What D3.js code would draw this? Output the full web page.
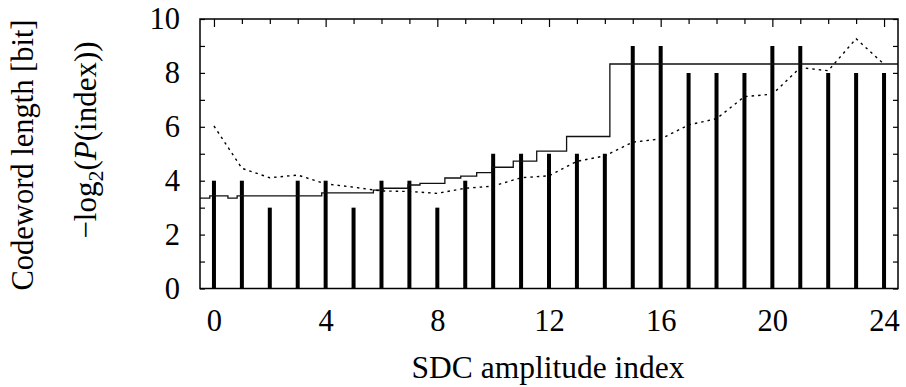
<!DOCTYPE html>
<html><head><meta charset="utf-8">
<script src="https://cdn.jsdelivr.net/npm/d3@7"></script>
<style>
html,body{margin:0;padding:0;background:#fff;}
svg{display:block;}
svg text{font-family:"Liberation Serif","Times New Roman",Times,"DejaVu Serif",serif !important;}
</style></head>
<body>
<svg id="chart" width="906" height="387"></svg>
<script>
// Data
const indices = d3.range(0, 25);
const codewordLength = [4,4,3,4,4,3,4,4,3,4,5,5,5,5,5,9,9,8,8,8,9,9,8,8,8];
const negLog2P = [6.03,4.46,4.11,4.21,3.88,3.76,3.62,3.60,3.53,3.72,3.80,4.11,4.18,4.72,4.92,5.43,5.55,6.07,6.30,7.12,7.21,8.20,8.08,9.27,8.32];
const stepX = [-0.5,-0.15,0.50,0.83,3.86,5.71,6.06,6.95,7.38,8.27,8.84,9.41,9.95,10.72,11.56,12.63,14.18,24.5];
const stepY = [3.35,3.44,3.35,3.44,3.55,3.65,3.72,3.84,3.90,4.10,4.17,4.30,4.50,4.73,5.10,5.64,8.33,8.33];
const xTickLabels = [0,4,8,12,16,20,24];
const yTickLabels = [0,2,4,6,8,10];

const FONT = "Liberation Serif, Times New Roman, Times, DejaVu Serif, serif";
const FS = 30.5;
const svg = d3.select("#chart").attr("font-family", FONT);
const L = 200, R = 898, T = 19, B = 288.5;
const x = d3.scaleLinear().domain([-0.5, 24.5]).range([L, R]);
const y = d3.scaleLinear().domain([0, 10]).range([B, T]);

// bars (impulses)
svg.append("g").selectAll("line").data(indices).join("line")
  .attr("x1", d => x(d)).attr("x2", d => x(d))
  .attr("y1", y(0)).attr("y2", d => y(codewordLength[d]))
  .attr("stroke", "#000").attr("stroke-width", 4);

// step line
const stepPts = stepX.map((v, i) => [v, stepY[i]]);
svg.append("path").datum(stepPts)
  .attr("d", d3.line().x(d => x(d[0])).y(d => y(d[1])).curve(d3.curveStepAfter))
  .attr("fill", "none").attr("stroke", "#111").attr("stroke-width", 1.3);

// dotted line
svg.append("path").datum(indices)
  .attr("d", d3.line().x(d => x(d)).y(d => y(negLog2P[d])))
  .attr("fill", "none").attr("stroke", "#000").attr("stroke-width", 1.4)
  .attr("stroke-dasharray", "2.5,4");

// axes
const xTicks = d3.range(0, 25);
const yTicks = d3.range(0, 11);
function styleAxis(g) {
  g.attr("font-family", FONT);
  g.select(".domain").remove();
  g.selectAll("line").attr("stroke", "#000").attr("stroke-width", 1.2);
  g.selectAll("text").attr("fill", "#000").attr("font-size", FS);
}
const fmtX = d => xTickLabels.includes(d) ? String(d) : "";
const fmtY = d => yTickLabels.includes(d) ? String(d) : "";

const gxb = svg.append("g").attr("transform", `translate(0,${B})`)
  .call(d3.axisBottom(x).tickValues(xTicks).tickFormat(fmtX).tickSize(-5).tickPadding(21));
styleAxis(gxb);
gxb.selectAll(".tick").filter(d => xTickLabels.includes(d)).select("line").attr("y2", -8);

const gxt = svg.append("g").attr("transform", `translate(0,${T})`)
  .call(d3.axisTop(x).tickValues(xTicks).tickFormat("").tickSize(-5));
styleAxis(gxt);
gxt.selectAll(".tick").filter(d => xTickLabels.includes(d)).select("line").attr("y2", 8);

const gyl = svg.append("g").attr("transform", `translate(${L},0)`)
  .call(d3.axisLeft(y).tickValues(yTicks).tickFormat(fmtY).tickSize(-5).tickPadding(20));
styleAxis(gyl);

const gyr = svg.append("g").attr("transform", `translate(${R},0)`)
  .call(d3.axisRight(y).tickValues(yTicks).tickFormat("").tickSize(-5));
styleAxis(gyr);

// frame
svg.append("rect").attr("x", L).attr("y", T).attr("width", R - L).attr("height", B - T)
  .attr("fill", "none").attr("stroke", "#000").attr("stroke-width", 1.5);

// axis titles
svg.append("text").attr("x", 548).attr("y", 378).attr("text-anchor", "middle")
  .attr("font-size", 31.5).text("SDC amplitude index");

const t1 = svg.append("text").attr("transform", "translate(33,155) rotate(-90)")
  .attr("text-anchor", "middle").attr("font-size", 30.5)
  .text("Codeword length [bit]");
// keep the whole label inside the picture
const len1 = t1.node().getComputedTextLength();
if (len1 > 276) t1.attr("font-size", 30.5 * 276 / len1);

const t2 = svg.append("text").attr("transform", "translate(96,140) rotate(-90)")
  .attr("text-anchor", "middle").attr("font-size", 31);
t2.append("tspan").text("\u2212log");
t2.append("tspan").attr("font-size", 22).attr("dy", "0.3em").text("2");
t2.append("tspan").attr("dy", "-0.21em").text("(");
t2.append("tspan").attr("font-style", "italic").text("P");
t2.append("tspan").text("(index))");
</script>
</body></html>
